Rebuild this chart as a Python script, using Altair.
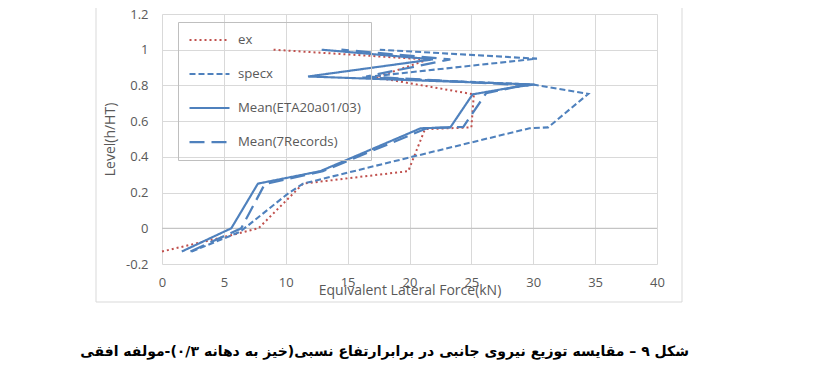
import altair as alt
import pandas as pd

series_names = ["ex", "specx", "Mean(ETA20a01/03)", "Mean(7Records)"]

ex_force = [0, 5.5, 7.8, 11.4, 19.9, 21.25, 25.0, 25.2, 17.3, 21.5, 9.0]
ex_level = [-0.13, -0.04, 0, 0.25, 0.32, 0.555, 0.565, 0.75, 0.845, 0.945, 1.0]

specx_force = [2.4, 6.3, 10.1, 11.4, 20.2, 29.7, 31.2, 34.45, 30.0, 16.2, 30.3, 17.6]
specx_level = [-0.13, -0.02, 0.19, 0.25, 0.40, 0.56, 0.565, 0.753, 0.805, 0.845, 0.95, 1.0]

eta_force = [1.6, 5.6, 7.75, 12.8, 20.9, 23.3, 25.1, 28.4, 30.1, 11.8, 21.9, 12.9]
eta_level = [-0.13, 0, 0.25, 0.32, 0.56, 0.565, 0.75, 0.79, 0.805, 0.85, 0.946, 1.0]

rec_force = [2.3, 6.4, 8.3, 13.0, 21.4, 24.35, 26.2, 28.5, 29.6, 16.5, 23.3, 14.5]
rec_level = [-0.13, 0, 0.247, 0.32, 0.56, 0.568, 0.757, 0.79, 0.80, 0.85, 0.946, 1.0]

x_ticks = [0, 5, 10, 15, 20, 25, 30, 35, 40]
y_ticks = [-0.2, 0, 0.2, 0.4, 0.6, 0.8, 1.0, 1.2]

caption = "شکل ۹ – مقایسه توزیع نیروی جانبی در برابرارتفاع نسبی(خیز به دهانه ۰/۳)-مولفه افقی"

rows = []
for name, xs, ys in [
    (series_names[0], ex_force, ex_level),
    (series_names[1], specx_force, specx_level),
    (series_names[2], eta_force, eta_level),
    (series_names[3], rec_force, rec_level),
]:
    for i, (xv, yv) in enumerate(zip(xs, ys)):
        rows.append({"series": name, "force": xv, "level": yv, "order": i})
df = pd.DataFrame(rows)

colors = ["#c0504d", "#4f81bd", "#4f81bd", "#4f81bd"]
dashes = [[2, 3], [6, 3], [1, 0], [15, 7]]
widths = [2, 2.25, 2.5, 2.5]

FONT = "Open Sans"
GRAY = "#595959"

legend = alt.Legend(
    title=None, orient="none", legendX=16, legendY=8,
    strokeColor="#bfbfbf", padding=10,
    symbolType="stroke", symbolSize=1600, symbolStrokeWidth=2.5,
    labelFont=FONT, labelFontSize=13.2, labelColor=GRAY,
    clipHeight=16, rowPadding=18, labelOffset=7,
)

xenc = alt.X(
    "force:Q",
    scale=alt.Scale(domain=[0, 40], nice=False),
    axis=alt.Axis(
        values=x_ticks, tickCount=20, title="Equivalent Lateral Force(kN)", grid=True,
        domain=False, ticks=False, labelPadding=12, labelFontSize=13,
        labelFlush=False, labelOverlap=False,
        labelFont=FONT, labelColor=GRAY, titleFont=FONT, titleFontSize=14,
        titleFontWeight="normal", titleColor=GRAY, titleY=26,
        titleBaseline="middle",
    ),
)
yenc = alt.Y(
    "level:Q",
    scale=alt.Scale(domain=[-0.2, 1.2], nice=False, zero=False),
    axis=alt.Axis(
        values=y_ticks, tickCount=20, title="Level(h/HT)", grid=True, domain=False,
        ticks=False, labelPadding=14, labelFontSize=13, labelFont=FONT,
        labelFlush=False, labelOverlap=False,
        labelColor=GRAY,
        labelExpr="datum.value < 0 ? '-' + format(-datum.value, '~g') : format(datum.value, '~g')",
        titleFont=FONT, titleFontSize=14, titleFontWeight="normal",
        titleColor=GRAY, titleX=-52, titleBaseline="middle",
    ),
)

lines = alt.Chart(df).mark_line(strokeCap="butt", strokeJoin="miter").encode(
    x=xenc,
    y=yenc,
    color=alt.Color("series:N", scale=alt.Scale(domain=series_names, range=colors), legend=legend),
    strokeDash=alt.StrokeDash("series:N", scale=alt.Scale(domain=series_names, range=dashes), legend=legend),
    strokeWidth=alt.StrokeWidth("series:N", scale=alt.Scale(domain=series_names, range=widths), legend=None),
    order=alt.Order("order:Q"),
)

zero_rule = alt.Chart(pd.DataFrame({"level": [0]})).mark_rule(color="#bfbfbf", strokeWidth=1).encode(
    y=alt.Y("level:Q")
)

border = alt.Chart(pd.DataFrame({"a": [0]})).mark_rect(
    fillOpacity=0, stroke="#d9d9d9", strokeWidth=1
).encode(
    x=alt.value(-66), x2=alt.value(520), y=alt.value(-12), y2=alt.value(288)
)

cap = alt.Chart(pd.DataFrame({"caption": [caption]})).mark_text(
    align="right", baseline="middle", font="DejaVu Sans", fontWeight="bold",
    fontSize=14, color="#000000"
).encode(text="caption:N", x=alt.value(527), y=alt.value(338))

chart = alt.layer(border, zero_rule, lines, cap).properties(
    width=495, height=250,
    autosize=alt.AutoSizeParams(type="none"),
    padding={"left": 154, "top": 6, "right": 150, "bottom": 110},
).configure_view(stroke=None).configure_axis(
    gridColor="#d9d9d9", gridWidth=1, labelOverlap=False
)

chart.save("out.html", embed_options={"renderer": "svg", "actions": False})
